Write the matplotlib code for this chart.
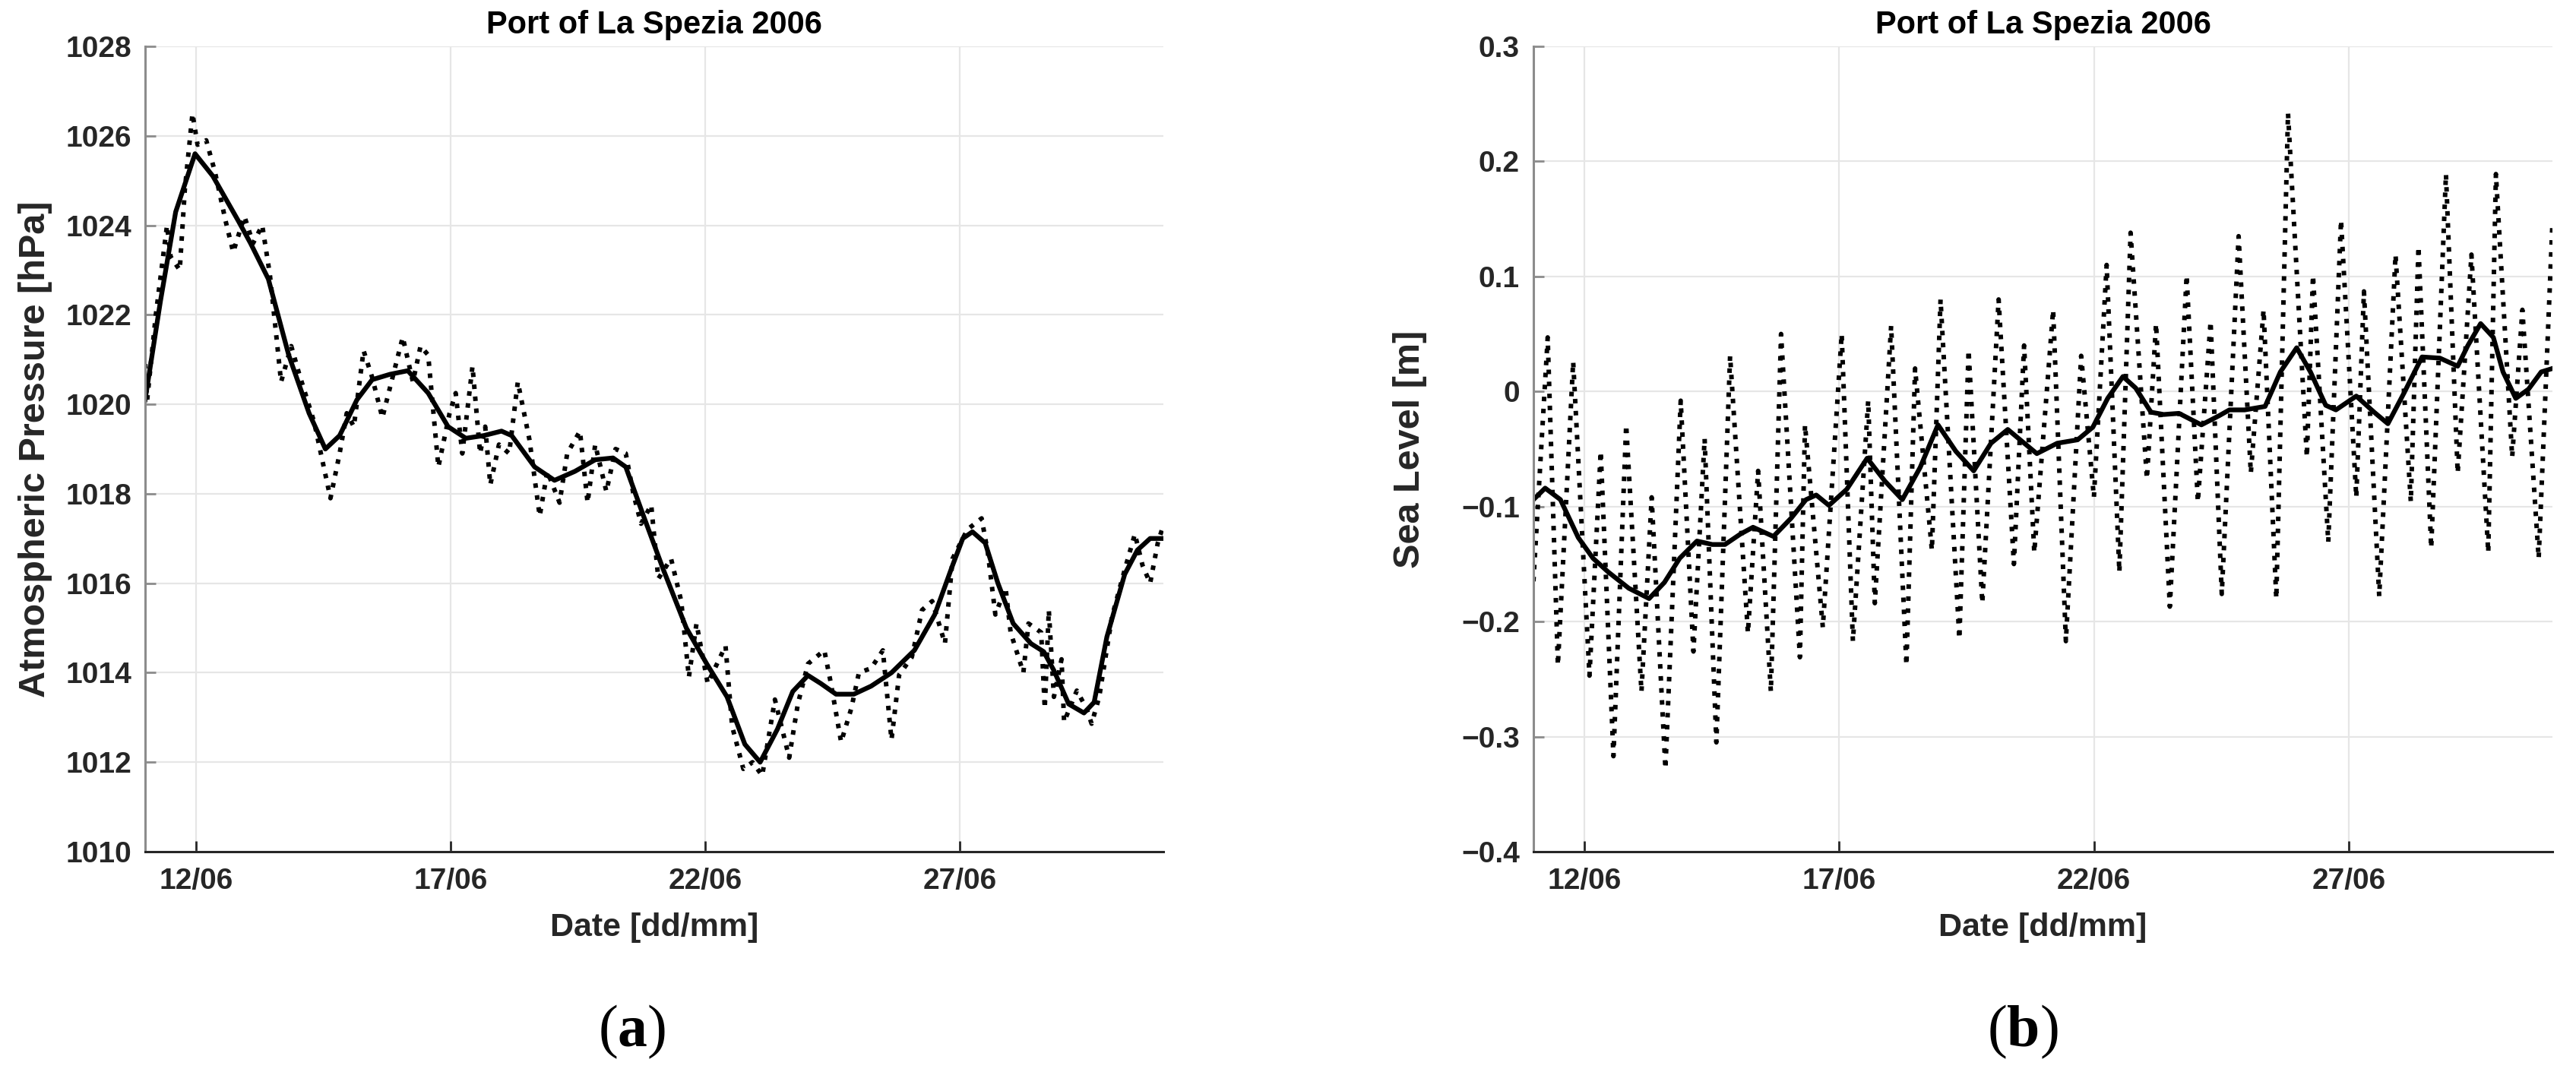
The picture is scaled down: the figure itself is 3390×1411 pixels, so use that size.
import numpy as np
import matplotlib
matplotlib.use("Agg")
import matplotlib.pyplot as plt
import matplotlib.dates as mdates

# time axis: days since 11/06/2006 00:00
start = np.datetime64("2006-06-11T00:00")

# atmospheric pressure, hourly record (dotted)
p_raw_day = [0.0, 0.04, 0.21, 0.43, 0.5, 0.68, 0.78, 0.93, 1.03, 1.2, 1.37, 1.58, 1.73, 1.95, 2.12, 2.3,
             2.45, 2.57, 2.67, 2.87, 3.02, 3.32, 3.64, 3.82, 3.96, 4.1, 4.29, 4.46, 4.66, 4.86, 5.06, 5.26,
             5.41, 5.56, 5.76, 5.98, 6.1, 6.23, 6.43, 6.58, 6.68, 6.78, 6.95, 7.15, 7.32, 7.55, 7.75, 7.9,
             8.14, 8.29, 8.54, 8.69, 8.84, 9.06, 9.24, 9.44, 9.59, 9.74, 9.94, 10.08, 10.33, 10.53, 10.68,
             10.83, 11.05, 11.4, 11.53, 11.75, 11.93, 12.12, 12.37, 12.65, 12.82, 13.02, 13.34, 13.47, 13.67,
             13.87, 14.02, 14.26, 14.49, 14.66, 14.81, 15.06, 15.26, 15.46, 15.71, 15.86, 16.15, 16.43, 16.55,
             16.7, 16.9, 17.0, 17.25, 17.35, 17.6, 17.67, 17.75, 17.85, 18.0, 18.05, 18.3, 18.49, 18.59,
             18.74, 18.99, 19.24, 19.44, 19.59, 19.74, 19.89, 20.0]
p_raw = [1020.9, 1020.1, 1022.0, 1024.0, 1023.3, 1023.0, 1024.8, 1026.5, 1025.8, 1025.9, 1025.2, 1024.1,
         1023.4, 1024.2, 1023.6, 1024.0, 1022.9, 1021.6, 1020.5, 1021.3, 1020.7, 1019.6, 1017.9, 1018.9,
         1019.8, 1019.5, 1021.2, 1020.6, 1019.7, 1020.6, 1021.5, 1020.5, 1021.3, 1021.1, 1018.6, 1019.8,
         1020.25, 1018.9, 1020.85, 1018.9, 1019.5, 1018.2, 1019.1, 1018.9, 1020.5, 1019.2, 1017.5, 1018.5,
         1017.8, 1018.9, 1019.4, 1017.8, 1019.1, 1018.05, 1019.0, 1018.9, 1018.0, 1017.33, 1017.75, 1016.1,
         1016.55, 1015.6, 1013.9, 1015.1, 1013.76, 1014.6, 1012.8, 1011.85, 1012.0, 1011.7, 1013.4, 1012.1,
         1013.3, 1014.2, 1014.5, 1013.76, 1012.45, 1013.2, 1014.0, 1014.1, 1014.5, 1012.5, 1013.95, 1014.35,
         1015.4, 1015.6, 1014.65, 1016.55, 1017.2, 1017.45, 1016.7, 1015.3, 1015.9, 1014.9, 1014.0, 1015.1,
         1014.9, 1013.2, 1015.4, 1013.46, 1014.3, 1012.9, 1013.6, 1013.2, 1012.86, 1013.46, 1015.25, 1016.3,
         1017.1, 1016.4, 1016.0, 1016.9, 1017.3]

# atmospheric pressure, smoothed (solid)
p_smooth_day = [0.0, 0.3, 0.6, 0.98, 1.33, 1.83, 2.07, 2.42, 2.82, 3.22, 3.54, 3.82, 4.16, 4.46, 4.81,
                5.16, 5.56, 5.95, 6.3, 6.65, 7.0, 7.2, 7.65, 8.04, 8.44, 8.84, 9.19, 9.44, 9.79, 10.18,
                10.63, 11.03, 11.43, 11.78, 12.08, 12.42, 12.72, 13.02, 13.27, 13.57, 13.92, 14.26, 14.66,
                15.11, 15.51, 15.86, 16.06, 16.25, 16.5, 16.75, 17.05, 17.4, 17.65, 17.85, 18.14, 18.44,
                18.64, 18.89, 19.24, 19.49, 19.74, 20.0]
p_smooth = [1020.1, 1022.3, 1024.3, 1025.6, 1025.1, 1024.1, 1023.6, 1022.8, 1021.1, 1019.8, 1019.0,
            1019.3, 1020.1, 1020.55, 1020.67, 1020.75, 1020.25, 1019.5, 1019.24, 1019.3, 1019.4, 1019.3,
            1018.6, 1018.3, 1018.5, 1018.76, 1018.8, 1018.6, 1017.5, 1016.3, 1015.0, 1014.2, 1013.46,
            1012.4, 1012.0, 1012.74, 1013.58, 1013.94, 1013.76, 1013.52, 1013.52, 1013.7, 1014.0, 1014.5,
            1015.3, 1016.4, 1017.0, 1017.15, 1016.9, 1016.0, 1015.1, 1014.65, 1014.47, 1014.05, 1013.3,
            1013.1, 1013.34, 1014.8, 1016.2, 1016.74, 1017.0, 1017.0]

# sea level, hourly record (dotted)
sl_raw_day = [0.0, 0.28, 0.48, 0.78, 1.10, 1.32, 1.57, 1.82, 2.12, 2.32, 2.59, 2.89, 3.14, 3.36, 3.59,
              3.86, 4.21, 4.41, 4.66, 4.86, 5.23, 5.33, 5.68, 6.05, 6.27, 6.57, 6.70, 7.02, 7.32, 7.49,
              7.82, 7.99, 8.36, 8.54, 8.81, 9.13, 9.43, 9.63, 9.83, 10.2, 10.45, 10.75, 11.0, 11.25, 11.5,
              11.72, 12.04, 12.22, 12.49, 12.82, 13.04, 13.29, 13.51, 13.84, 14.08, 14.33, 14.58, 14.81,
              15.18, 15.3, 15.6, 15.85, 16.15, 16.3, 16.6, 16.92, 17.22, 17.37, 17.62, 17.91, 18.14, 18.41,
              18.74, 18.89, 19.21, 19.41, 19.73, 20.0]
sl_raw = [-0.165, 0.047, -0.238, 0.026, -0.247, -0.052, -0.317, -0.029, -0.261, -0.092, -0.328, -0.008,
          -0.226, -0.041, -0.305, 0.031, -0.210, -0.069, -0.261, 0.050, -0.231, -0.029, -0.205, 0.050,
          -0.217, -0.008, -0.184, 0.057, -0.238, 0.020, -0.138, 0.080, -0.215, 0.036, -0.184, 0.080,
          -0.150, 0.040, -0.140, 0.071, -0.217, 0.031, -0.092, 0.110, -0.157, 0.138, -0.076, 0.059,
          -0.187, 0.101, -0.096, 0.061, -0.176, 0.135, -0.071, 0.071, -0.180, 0.242, -0.057, 0.101,
          -0.131, 0.149, -0.092, 0.087, -0.178, 0.119, -0.096, 0.126, -0.136, 0.189, -0.071, 0.119,
          -0.140, 0.189, -0.057, 0.071, -0.145, 0.147]

# sea level, smoothed (solid)
sl_smooth_day = [0.0, 0.23, 0.53, 0.88, 1.17, 1.47, 1.87, 2.27, 2.57, 2.87, 3.21, 3.51, 3.76, 4.06, 4.31,
                 4.71, 5.06, 5.35, 5.55, 5.8, 6.15, 6.55, 6.9, 7.24, 7.59, 7.94, 8.29, 8.64, 8.98, 9.31,
                 9.58, 9.88, 10.28, 10.68, 10.98, 11.27, 11.57, 11.82, 12.12, 12.37, 12.67, 13.11, 13.46,
                 13.66, 13.96, 14.36, 14.66, 14.98, 15.25, 15.55, 15.75, 16.15, 16.5, 16.77, 17.09, 17.44,
                 17.79, 18.14, 18.34, 18.59, 18.84, 19.03, 19.28, 19.53, 19.78, 20.0]
sl_smooth = [-0.094, -0.084, -0.094, -0.127, -0.145, -0.157, -0.171, -0.180, -0.166, -0.145, -0.130,
             -0.133, -0.133, -0.124, -0.118, -0.126, -0.110, -0.094, -0.090, -0.099, -0.085, -0.058,
             -0.078, -0.094, -0.066, -0.029, -0.052, -0.069, -0.045, -0.033, -0.043, -0.054, -0.045,
             -0.042, -0.031, -0.006, 0.013, 0.003, -0.018, -0.020, -0.019, -0.029, -0.021, -0.016,
             -0.016, -0.013, 0.017, 0.038, 0.017, -0.012, -0.016, -0.004, -0.018, -0.028, -0.001, 0.030,
             0.029, 0.022, 0.040, 0.059, 0.047, 0.017, -0.006, 0.002, 0.017, 0.020]

p_ticks = [1010, 1012, 1014, 1016, 1018, 1020, 1022, 1024, 1026, 1028]
sl_ticks = [-0.4, -0.3, -0.2, -0.1, 0.0, 0.1, 0.2, 0.3]
sl_tick_labels = ["\u22120.4", "\u22120.3", "\u22120.2", "\u22120.1", "0", "0.1", "0.2", "0.3"]
date_ticks = ["2006-06-12", "2006-06-17", "2006-06-22", "2006-06-27"]

plt.rcParams["font.family"] = ["Liberation Sans", "DejaVu Sans"]
plt.rcParams["font.weight"] = "bold"
plt.rcParams["mathtext.fontset"] = "custom"
plt.rcParams["mathtext.bf"] = "Liberation Serif:bold"
plt.rcParams["mathtext.rm"] = "Liberation Serif"


def to_time(days):
    mins = np.round(np.asarray(days) * 24 * 60).astype(int)
    return start + mins.astype("timedelta64[m]")


fig = plt.figure(figsize=(33.9, 14.11), dpi=100)
ax1 = fig.add_axes([0.05634, 0.20553, 0.39528, 0.75124])
ax2 = fig.add_axes([0.59528, 0.20553, 0.39558, 0.75124])

ax1.plot(to_time(p_raw_day), p_raw, color="black", ls=":", lw=4.3)
ax1.plot(to_time(p_smooth_day), p_smooth, color="black", ls="-", lw=4.5)
ax2.plot(to_time(sl_raw_day), sl_raw, color="black", ls=":", lw=4.3)
ax2.plot(to_time(sl_smooth_day), sl_smooth, color="black", ls="-", lw=4.5)

ax1.set_ylim(1010, 1028)
ax1.set_yticks(p_ticks)
ax1.set_yticklabels([str(t) for t in p_ticks])
ax2.set_ylim(-0.4, 0.3)
ax2.set_yticks(sl_ticks)
ax2.set_yticklabels(sl_tick_labels)

for ax, ylab, ylx, txt, tx in [(ax1, "Atmospheric Pressure [hPa]", -0.108, r"($\mathbf{a}$)", 0.2454),
                              (ax2, "Sea Level [m]", -0.121, r"($\mathbf{b}$)", 0.7853)]:
    ax.set_xlim(start, np.datetime64("2006-07-01T00:00"))
    ax.set_xticks([np.datetime64(d) for d in date_ticks])
    ax.xaxis.set_major_formatter(mdates.DateFormatter("%d/%m"))
    ax.set_axisbelow(True)
    ax.grid(True, color="#e6e6e6", lw=1.6)
    ax.spines["top"].set_visible(False)
    ax.spines["right"].set_visible(False)
    ax.spines["left"].set_color("#8c8c8c")
    ax.spines["left"].set_linewidth(2.2)
    ax.spines["bottom"].set_color("#262626")
    ax.spines["bottom"].set_linewidth(2.2)
    ax.tick_params(axis="y", direction="in", length=10, width=2, color="#8c8c8c",
                   labelsize=28, labelcolor="#262626", pad=13)
    ax.tick_params(axis="x", direction="in", length=10, width=2, color="#262626",
                   labelsize=28, labelcolor="#262626", pad=15)
    ax.set_title("Port of La Spezia 2006", fontsize=30, fontweight="bold", pad=12)
    ax.set_xlabel("Date [dd/mm]", fontsize=31, fontweight="bold", color="#262626")
    ax.xaxis.set_label_coords(0.5, -0.094)
    ax.xaxis.label.set_va("center")
    ax.set_ylabel(ylab, fontsize=35, fontweight="bold", color="#262626")
    ax.yaxis.set_label_coords(ylx, 0.5)
    ax.yaxis.label.set_va("center")
    fig.text(tx, 0.0375, txt, fontsize=56, family="Liberation Serif", fontweight="normal",
             ha="center", va="center")

fig.savefig("out.png", dpi=100)
